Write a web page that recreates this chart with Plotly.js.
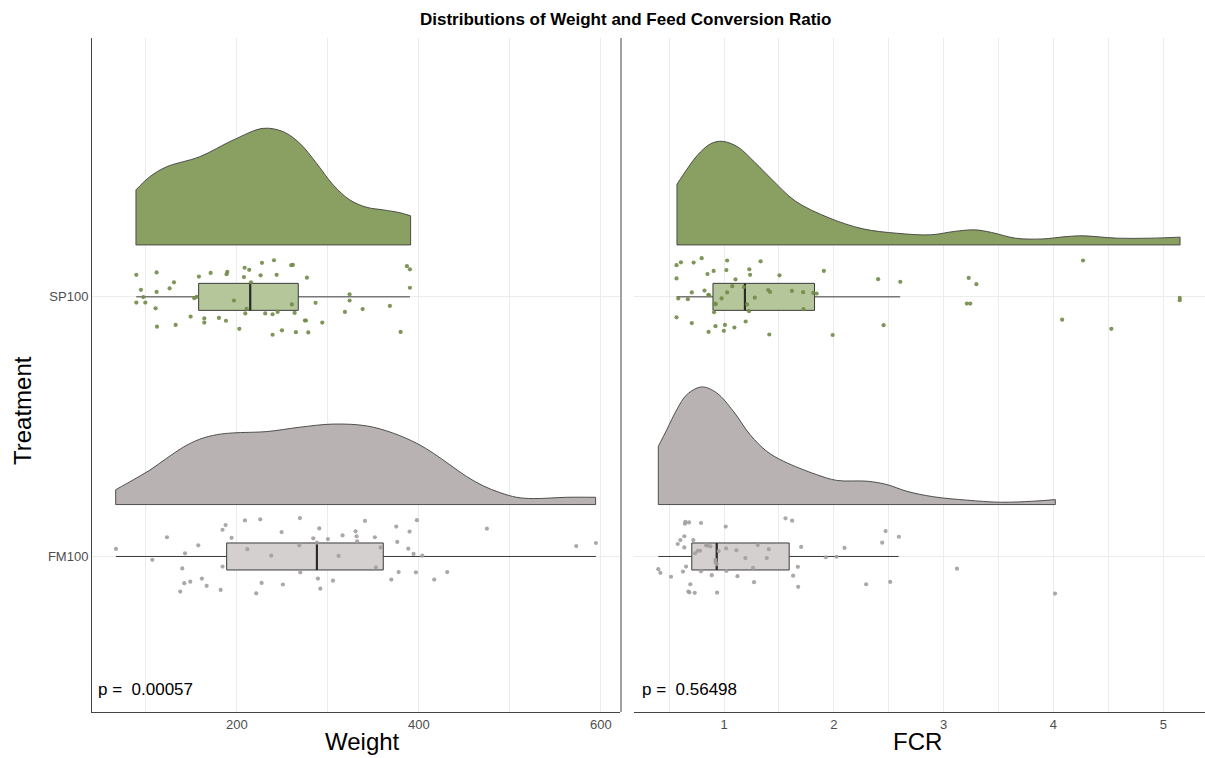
<!DOCTYPE html>
<html>
<head>
<meta charset="utf-8">
<script src="https://cdn.plot.ly/plotly-3.0.1.min.js"></script>
<style>html,body{margin:0;padding:0;background:#fff;}#chart{width:1205px;height:758px;}</style>
</head>
<body>
<div id="chart"></div>
<script>
// ---- Categories / tick labels ----
const treatments = ['FM100', 'SP100'];
const treatmentPos = [1, 2];
const weightTicks = [200, 400, 600];
const fcrTicks = [1, 2, 3, 4, 5];
const pWeight = 'p =\u00a0\u00a00.00057';
const pFCR = 'p =\u00a0\u00a00.56498';

// ---- Density curves (value, density height in category units) ----
const wSP_x = [89.0, 104.4, 122.7, 159.3, 195.9, 228.9, 250.9, 269.2, 287.6, 305.8, 324.2, 342.5, 360.8, 379.1, 390.9];
const wSP_d = [0.212, 0.263, 0.301, 0.340, 0.404, 0.449, 0.436, 0.391, 0.314, 0.231, 0.173, 0.145, 0.135, 0.124, 0.112];
const wFM_x = [66.7, 86.0, 104.4, 122.7, 141.0, 159.3, 177.7, 195.9, 232.6, 269.2, 305.8, 342.5, 371.8, 397.5, 415.7, 434.1, 452.4, 470.7, 489.0, 507.4, 525.6, 562.3, 594.2];
const wFM_d = [0.057, 0.095, 0.133, 0.178, 0.221, 0.252, 0.269, 0.276, 0.281, 0.298, 0.310, 0.303, 0.275, 0.236, 0.198, 0.153, 0.108, 0.072, 0.046, 0.028, 0.023, 0.028, 0.028];
const fSP_x = [0.571, 0.663, 0.756, 0.879, 0.986, 1.126, 1.280, 1.434, 1.649, 1.957, 2.265, 2.573, 2.882, 3.098, 3.283, 3.437, 3.653, 3.899, 4.115, 4.269, 4.577, 4.885, 5.153];
const fSP_d = [0.234, 0.292, 0.345, 0.390, 0.399, 0.377, 0.318, 0.253, 0.169, 0.104, 0.062, 0.045, 0.039, 0.052, 0.058, 0.048, 0.026, 0.023, 0.032, 0.035, 0.026, 0.026, 0.030];
const fFM_x = [0.401, 0.478, 0.569, 0.660, 0.797, 0.933, 1.085, 1.237, 1.389, 1.541, 1.845, 2.027, 2.301, 2.483, 2.665, 2.908, 3.212, 3.516, 3.820, 4.017];
const fFM_d = [0.224, 0.288, 0.365, 0.423, 0.453, 0.430, 0.359, 0.269, 0.205, 0.167, 0.115, 0.093, 0.090, 0.077, 0.051, 0.030, 0.017, 0.009, 0.013, 0.019];

// ---- Box statistics [lower whisker, q1, median, q3, upper whisker] ----
const wSP_box = [89.3, 157.9, 214.6, 267.4, 390.1];
const wFM_box = [67.0, 188.7, 287.9, 360.8, 594.5];
const fSP_box = [0.567, 0.899, 1.190, 1.824, 2.604];
const fFM_box = [0.401, 0.706, 0.933, 1.593, 2.590];

// ---- Raw observations and their vertical jitter ----
const wSP_pts = [89.4,111.7,94.5,97.1,89.4,99.3,111.7,110.6,112.1,132.6,126.0,130.8,149.1,153.1,155.7,158.2,164.1,164.1,171.1,180.2,187.9,188.6,189.4,196.7,202.6,207.7,208.4,213.5,210.6,209.2,215.4,226.0,227.5,231.1,239.2,239.2,240.7,243.6,244.7,249.5,259.7,261.5,260.4,263.4,264.8,274.7,275.8,276.9,278.4,286.4,293.8,318.7,323.8,323.8,338.1,368.1,379.9,386.8,390.1,390.1];
const wSP_jit = [0.085,0.094,0.027,-0.001,-0.022,-0.022,0.019,-0.044,-0.115,-0.108,0.033,0.056,-0.076,-0.005,0,0.078,-0.083,-0.099,0.092,-0.081,-0.092,0.087,0.096,-0.014,-0.123,0.076,0.112,0.104,-0.046,-0.064,0.056,0.083,0.131,-0.064,-0.067,-0.146,0.141,0.085,-0.058,-0.129,0.122,0.123,-0.029,-0.062,-0.136,-0.091,-0.091,0.074,-0.137,-0.023,-0.099,-0.058,0.010,-0.014,-0.047,-0.035,-0.135,0.118,0.106,0.035];
const wFM_pts = [67.0,107.0,123.1,139.9,142.9,142.1,148.7,137.7,157.5,161.5,166.7,182.1,184.2,184.2,187.5,194.1,208.8,211.4,221.2,225.6,227.1,237.7,249.1,250.5,268.5,269.2,269.6,283.9,287.9,289.0,290.5,291.6,300.0,305.5,311.7,316.1,330.4,331.5,332.2,340.7,351.6,352.7,357.9,369.6,375.1,376.2,377.7,388.3,389.7,394.1,396.7,397.8,403.7,416.8,431.1,474.7,572.9,594.5];
const wFM_jit = [0.029,-0.013,0.074,-0.046,0.012,-0.103,-0.097,-0.135,0.043,-0.085,-0.113,-0.129,-0.039,0.103,0.121,0.072,0.139,0.028,-0.142,0.143,-0.102,0.003,0.094,-0.108,0.043,0.148,-0.061,0.070,0.053,-0.085,0.108,-0.124,0.067,-0.093,0.002,0.081,0.097,0.078,0.058,0.137,0.074,-0.042,0.035,-0.089,0.115,0.056,-0.060,0.030,0.096,0.010,-0.061,0.140,0.003,-0.089,-0.060,0.107,0.040,0.052];
const fSP_pts = [0.567,0.607,0.567,0.583,0.670,0.567,0.706,0.706,0.723,0.796,0.822,0.849,0.856,0.865,0.859,0.905,0.915,0.925,0.909,0.922,0.978,0.998,1.008,1.021,1.028,1.028,1.074,1.094,1.104,1.180,1.197,1.210,1.227,1.230,1.237,1.280,1.333,1.402,1.419,1.412,1.505,1.618,1.720,1.724,1.813,1.843,1.909,1.989,2.403,2.453,2.605,3.211,3.242,3.228,3.298,4.079,4.269,4.527,5.150,5.150];
const fSP_jit = [0.122,0.133,0.071,-0.006,-0.009,-0.079,0.017,-0.101,0.132,0.149,0.024,0.088,0.008,0.006,-0.135,0.100,-0.026,-0.028,-0.059,-0.113,-0.006,-0.131,-0.108,0.103,0.140,0.017,0.041,-0.118,0.067,0.038,-0.095,-0.029,-0.055,0.106,0.085,-0.003,0.137,0.026,0.019,-0.145,0.083,0.023,0.018,-0.047,0.015,0.013,0.100,-0.147,0.068,-0.109,0.058,-0.026,-0.026,0.073,0.049,-0.088,0.140,-0.123,-0.004,-0.013];
const fFM_pts = [0.401,0.420,0.517,0.578,0.602,0.626,0.638,0.638,0.654,0.647,0.644,0.681,0.693,0.675,0.684,0.720,0.736,0.733,0.760,0.781,0.790,0.790,0.836,0.851,0.875,0.888,0.921,0.924,0.933,0.936,0.951,1.015,1.018,1.021,1.112,1.122,1.194,1.264,1.273,1.307,1.389,1.407,1.559,1.620,1.629,1.672,1.675,1.702,1.927,2.024,2.097,2.294,2.440,2.471,2.513,2.592,3.121,4.014];
const fFM_jit = [-0.049,-0.063,-0.078,0.048,0.063,-0.058,0.078,0.035,-0.039,0.133,0.126,0.131,-0.107,-0.135,-0.138,0.063,0.012,-0.140,0.022,0.022,0.129,-0.057,0.043,0.042,0.039,-0.072,-0.013,-0.022,-0.030,-0.139,0.021,0.115,0.031,-0.056,0.024,-0.076,-0.006,-0.044,-0.099,0.044,-0.006,0.028,0.147,0.138,-0.074,-0.040,-0.117,0.037,-0.003,-0.001,0.033,-0.107,0.053,0.098,-0.098,0.076,-0.047,-0.143];

// ---- Styles ----
const violinOffset = 0.2;
const boxWidth = 0.104;
const col = {
  SP: {violin: '#8a9f62', box: 'rgba(181,198,154,1)', pt: '#718b48'},
  FM: {violin: '#b8b2b2', box: 'rgba(212,208,208,1)', pt: '#a39e9e'}
};
const outline = '#404040';

// half-violin: a U-shaped base (edges + baseline) followed by a smooth top curve filled to it
function violin(xs, ds, base, xa, ya, fill) {
  const n = xs.length;
  const baseTrace = {type: 'scatter', mode: 'lines',
    x: [xs[0], xs[0], xs[n - 1], xs[n - 1]], y: [base + ds[0], base, base, base + ds[n - 1]],
    xaxis: xa, yaxis: ya, line: {color: outline, width: 0.9}, hoverinfo: 'skip', showlegend: false};
  const top = {type: 'scatter', mode: 'lines', x: xs, y: ds.map(d => base + d), xaxis: xa, yaxis: ya,
    fill: 'tonexty', fillcolor: fill, line: {color: outline, width: 0.9, shape: 'spline', smoothing: 1},
    hoverinfo: 'skip', showlegend: false};
  return [baseTrace, top];
}
function box(stats, pos, xa, ya, fill) {
  return {type: 'box', orientation: 'h', y: [pos], lowerfence: [stats[0]], q1: [stats[1]],
    median: [stats[2]], q3: [stats[3]], upperfence: [stats[4]], width: boxWidth, whiskerwidth: 0,
    boxpoints: false, fillcolor: fill, line: {color: '#3a3a3a', width: 1}, xaxis: xa, yaxis: ya,
    hoverinfo: 'skip', showlegend: false};
}
function medianLine(stats, pos, xa, ya) {
  return {type: 'scatter', mode: 'lines', x: [stats[2], stats[2]], y: [pos - boxWidth / 2, pos + boxWidth / 2],
    xaxis: xa, yaxis: ya, line: {color: '#2a2a2a', width: 2.2}, hoverinfo: 'skip', showlegend: false};
}
function points(xs, jit, pos, xa, ya, c) {
  return {type: 'scatter', mode: 'markers', x: xs, y: jit.map(j => pos + j), xaxis: xa, yaxis: ya,
    marker: {color: c, size: 4.2, opacity: 0.9}, hoverinfo: 'skip', showlegend: false};
}

const traces = [].concat(
  violin(wSP_x, wSP_d, treatmentPos[1] + violinOffset, 'x', 'y', col.SP.violin),
  violin(wFM_x, wFM_d, treatmentPos[0] + violinOffset, 'x', 'y', col.FM.violin),
  [box(wSP_box, treatmentPos[1], 'x', 'y', col.SP.box),
   box(wFM_box, treatmentPos[0], 'x', 'y', col.FM.box),
   medianLine(wSP_box, treatmentPos[1], 'x', 'y'),
   medianLine(wFM_box, treatmentPos[0], 'x', 'y'),
   points(wSP_pts, wSP_jit, treatmentPos[1], 'x', 'y', col.SP.pt),
   points(wFM_pts, wFM_jit, treatmentPos[0], 'x', 'y', col.FM.pt)],
  violin(fSP_x, fSP_d, treatmentPos[1] + violinOffset, 'x2', 'y2', col.SP.violin),
  violin(fFM_x, fFM_d, treatmentPos[0] + violinOffset, 'x2', 'y2', col.FM.violin),
  [box(fSP_box, treatmentPos[1], 'x2', 'y2', col.SP.box),
   box(fFM_box, treatmentPos[0], 'x2', 'y2', col.FM.box),
   medianLine(fSP_box, treatmentPos[1], 'x2', 'y2'),
   medianLine(fFM_box, treatmentPos[0], 'x2', 'y2'),
   points(fSP_pts, fSP_jit, treatmentPos[1], 'x2', 'y2', col.SP.pt),
   points(fFM_pts, fFM_jit, treatmentPos[0], 'x2', 'y2', col.FM.pt)]
);

const font = 'Liberation Sans, Arial, sans-serif';
const grid = '#ececec';
const yr = [0.401, 2.997];

const layout = {
  width: 1205, height: 758,
  margin: {l: 92, r: 0, t: 38, b: 46},
  paper_bgcolor: '#fff', plot_bgcolor: '#fff',
  showlegend: false, boxmode: 'overlay',
  font: {family: font, color: '#4d4d4d', size: 13},
  xaxis: {domain: [0, 0.4744], range: [40.7, 621], tickvals: weightTicks, ticktext: weightTicks.map(String),
    showgrid: true, gridcolor: grid, gridwidth: 1, zeroline: false, showline: true, linecolor: '#444', linewidth: 1,
    ticks: '', tickfont: {size: 13, color: '#4d4d4d'},
    minor: {dtick: 100, tick0: 0, showgrid: true, gridcolor: grid, gridwidth: 1}, anchor: 'y'},
  yaxis: {range: yr, tickvals: treatmentPos, ticktext: treatments, showgrid: true, gridcolor: grid,
    zeroline: false, showline: true, linecolor: '#444', linewidth: 1, ticks: '', tickfont: {size: 13, color: '#4d4d4d'}, anchor: 'x'},
  xaxis2: {domain: [0.487, 1], range: [0.18, 5.38], tickvals: fcrTicks, ticktext: fcrTicks.map(String),
    showgrid: true, gridcolor: grid, zeroline: false, showline: true, linecolor: '#444', linewidth: 1,
    ticks: '', tickfont: {size: 13, color: '#4d4d4d'},
    minor: {dtick: 0.5, tick0: 0, showgrid: true, gridcolor: grid, gridwidth: 1}, anchor: 'y2'},
  yaxis2: {range: yr, tickvals: treatmentPos, showticklabels: false, showgrid: true, gridcolor: grid,
    zeroline: false, showline: false, ticks: '', anchor: 'x2'},
  shapes: [
    {type: 'line', xref: 'paper', yref: 'paper', x0: 0.4753, x1: 0.4753, y0: 0, y1: 1, line: {color: '#444', width: 1}}
  ],
  annotations: [
    {text: '<b>Distributions of Weight and Feed Conversion Ratio</b>', xref: 'paper', yref: 'paper', x: 0.479, y: 1.027,
      xanchor: 'center', yanchor: 'middle', showarrow: false, font: {family: font, size: 17, color: '#000'}},
    {text: 'Weight', xref: 'paper', yref: 'paper', x: 0.2426, y: -0.0445, xanchor: 'center', yanchor: 'middle',
      showarrow: false, font: {family: font, size: 24, color: '#000'}},
    {text: 'FCR', xref: 'paper', yref: 'paper', x: 0.742, y: -0.0445, xanchor: 'center', yanchor: 'middle',
      showarrow: false, font: {family: font, size: 24, color: '#000'}},
    {text: 'Treatment', xref: 'paper', yref: 'paper', x: -0.0629, y: 0.448, xanchor: 'center', yanchor: 'middle',
      textangle: -90, showarrow: false, font: {family: font, size: 24, color: '#000'}},
    {text: pWeight, xref: 'paper', yref: 'paper', x: 0.0036, y: 0.034, xanchor: 'left', yanchor: 'middle',
      showarrow: false, font: {family: font, size: 17, color: '#000'}},
    {text: pFCR, xref: 'paper', yref: 'paper', x: 0.4924, y: 0.034, xanchor: 'left', yanchor: 'middle',
      showarrow: false, font: {family: font, size: 17, color: '#000'}}
  ]
};

Plotly.newPlot('chart', traces, layout, {staticPlot: true, displayModeBar: false});
</script>
</body>
</html>
